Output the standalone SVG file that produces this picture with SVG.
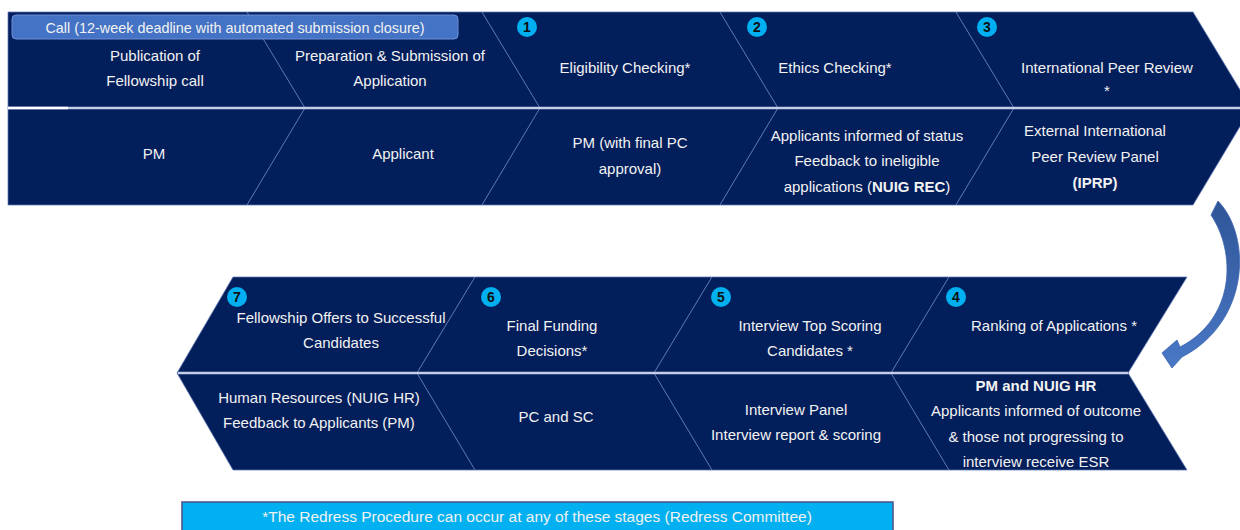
<svg xmlns="http://www.w3.org/2000/svg" width="1240" height="530" viewBox="0 0 1240 530">
  <defs>
    <style>
      .cell { fill: #021E5B; stroke: #5F78B4; stroke-width: 1; stroke-opacity: 0.75; }
      .t { font-family: "Liberation Sans", Arial, sans-serif; font-size: 15px; fill: #F2F2F2; text-anchor: middle; }
      .b { font-weight: bold; }
      .badge { fill: #00B0F0; }
      .num { font-family: "Liberation Sans", Arial, sans-serif; font-size: 14px; font-weight: bold; fill: #111111; text-anchor: middle; }
      .mid { stroke: #C3CEE8; stroke-width: 2.5; }
    </style>
    <linearGradient id="arrowGrad" x1="0" y1="0" x2="0" y2="1">
      <stop offset="0" stop-color="#2F5597"/>
      <stop offset="1" stop-color="#4A78C6"/>
    </linearGradient>
  </defs>
  <rect width="1240" height="530" fill="#FFFFFF"/>

  <!-- Top band -->
  <g id="stage-publication">
    <polygon class="cell" points="8,12 247,12 305,108 8,108"/>
    <text class="t" x="155" y="61">Publication of</text>
    <text class="t" x="155" y="86">Fellowship call</text>
  </g>
  <g id="actor-publication">
    <polygon class="cell" points="8,108 305,108 247,205 8,205"/>
    <text class="t" x="154" y="159">PM</text>
  </g>
  <g id="stage-preparation">
    <polygon class="cell" points="247,12 482,12 540,108 305,108"/>
    <text class="t" x="390" y="61">Preparation &amp; Submission of</text>
    <text class="t" x="390" y="86">Application</text>
  </g>
  <g id="actor-preparation">
    <polygon class="cell" points="305,108 540,108 482,205 247,205"/>
    <text class="t" x="403" y="159">Applicant</text>
  </g>
  <g id="stage-eligibility">
    <polygon class="cell" points="482,12 720,12 778,108 540,108"/>
    <text class="t" x="625" y="73">Eligibility Checking*</text>
  </g>
  <g id="actor-eligibility">
    <polygon class="cell" points="540,108 778,108 720,205 482,205"/>
    <text class="t" x="630" y="148">PM (with final PC</text>
    <text class="t" x="630" y="174">approval)</text>
  </g>
  <g id="stage-ethics">
    <polygon class="cell" points="720,12 956,12 1014,108 778,108"/>
    <text class="t" x="835" y="73">Ethics Checking*</text>
  </g>
  <g id="actor-ethics">
    <polygon class="cell" points="778,108 1014,108 956,205 720,205"/>
    <text class="t" x="867" y="141">Applicants informed of status</text>
    <text class="t" x="867" y="166">Feedback to ineligible</text>
    <text class="t" x="867" y="192">applications (<tspan class="b">NUIG REC</tspan>)</text>
  </g>
  <g id="stage-peer-review">
    <polygon class="cell" points="956,12 1193,12 1251,108 1014,108"/>
    <text class="t" x="1107" y="73">International Peer Review</text>
    <text class="t" x="1107" y="96">*</text>
  </g>
  <g id="actor-peer-review">
    <polygon class="cell" points="1014,108 1251,108 1193,205 956,205"/>
    <text class="t" x="1095" y="136">External International</text>
    <text class="t" x="1095" y="162">Peer Review Panel</text>
    <text class="t b" x="1095" y="188">(IPRP)</text>
  </g>
  <line class="mid" x1="8" y1="108" x2="1249" y2="108"/>
  <line x1="8" y1="108" x2="68" y2="108" stroke="#FFFFFF" stroke-width="2.5"/>

  <g id="call-bar">
    <rect x="12" y="15" width="446" height="24" rx="4" ry="4" fill="#4472C4" stroke="#6C8FD6" stroke-width="1"/>
    <text class="t" x="235" y="32.5" style="font-size:14.4px">Call (12-week deadline with automated submission closure)</text>
  </g>

  <!-- Bottom band -->
  <g id="stage-offers">
    <polygon class="cell" points="233,277 475,277 417,373 177,373"/>
    <text class="t" x="341" y="323">Fellowship Offers to Successful</text>
    <text class="t" x="341" y="348">Candidates</text>
  </g>
  <g id="actor-offers">
    <polygon class="cell" points="177,373 417,373 475,470 233,470"/>
    <text class="t" x="319" y="403">Human Resources (NUIG HR)</text>
    <text class="t" x="319" y="428">Feedback to Applicants (PM)</text>
  </g>
  <g id="stage-funding">
    <polygon class="cell" points="475,277 712,277 654,373 417,373"/>
    <text class="t" x="552" y="331">Final Funding</text>
    <text class="t" x="552" y="356">Decisions*</text>
  </g>
  <g id="actor-funding">
    <polygon class="cell" points="417,373 654,373 712,470 475,470"/>
    <text class="t" x="556" y="422">PC and SC</text>
  </g>
  <g id="stage-interview">
    <polygon class="cell" points="712,277 949,277 891,373 654,373"/>
    <text class="t" x="810" y="331">Interview Top Scoring</text>
    <text class="t" x="810" y="356">Candidates *</text>
  </g>
  <g id="actor-interview">
    <polygon class="cell" points="654,373 891,373 949,470 712,470"/>
    <text class="t" x="796" y="415">Interview Panel</text>
    <text class="t" x="796" y="440">Interview report &amp; scoring</text>
  </g>
  <g id="stage-ranking">
    <polygon class="cell" points="949,277 1187,277 1128,373 891,373"/>
    <text class="t" x="1054" y="331">Ranking of Applications *</text>
  </g>
  <g id="actor-ranking">
    <polygon class="cell" points="891,373 1128,373 1187,470 949,470"/>
    <text class="t b" x="1036" y="391">PM and NUIG HR</text>
    <text class="t" x="1036" y="416">Applicants informed of outcome</text>
    <text class="t" x="1036" y="442">&amp; those not progressing to</text>
    <text class="t" x="1036" y="467">interview receive ESR</text>
  </g>
  <line class="mid" x1="178" y1="373" x2="1128" y2="373"/>

  <!-- Step badges -->
  <g id="badges">
    <circle class="badge" cx="527" cy="27" r="10"/><text class="num" x="527" y="32">1</text>
    <circle class="badge" cx="757" cy="27" r="10"/><text class="num" x="757" y="32">2</text>
    <circle class="badge" cx="987" cy="27" r="10"/><text class="num" x="987" y="32">3</text>
    <circle class="badge" cx="956" cy="297" r="10"/><text class="num" x="956" y="302">4</text>
    <circle class="badge" cx="721" cy="297" r="10"/><text class="num" x="721" y="302">5</text>
    <circle class="badge" cx="491" cy="297" r="10"/><text class="num" x="491" y="302">6</text>
    <circle class="badge" cx="237" cy="297" r="10"/><text class="num" x="237" y="302">7</text>
  </g>

  <!-- Connector -->
  <g id="connectors">
    <path d="M1218,201 C1252,236 1250,322 1182,357 L1172,368 L1162,353 L1177,340 L1180,347 C1236,318 1236,252 1211,215 Z" fill="url(#arrowGrad)" stroke="#3B64AE" stroke-width="0.8"/>
  </g>

  <!-- Footnote -->
  <g id="redress-note">
    <rect x="182" y="502" width="711" height="30" fill="#00B0F0" stroke="#4D4F86" stroke-width="1.5"/>
    <text class="t" x="537" y="522" style="font-size:15.5px">*The Redress Procedure can occur at any of these stages (Redress Committee)</text>
  </g>
</svg>
